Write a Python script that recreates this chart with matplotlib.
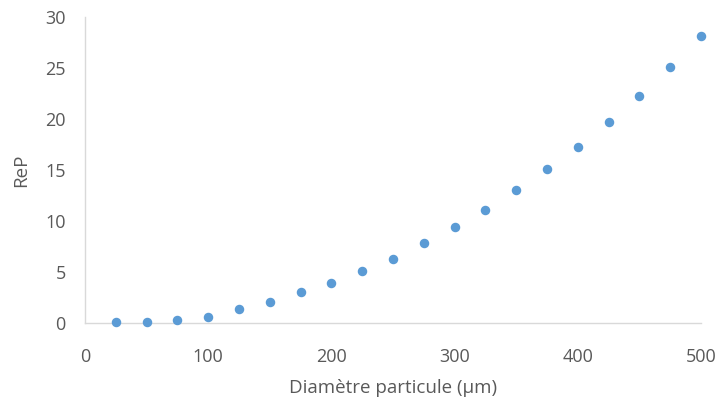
import matplotlib
matplotlib.use("Agg")
import matplotlib.pyplot as plt

plt.rcParams["font.family"] = ["Open Sans", "DejaVu Sans"]

# Particle diameter (µm) and particle Reynolds number
diametre = [25, 50, 75, 100, 125, 150, 175, 200, 225, 250,
            275, 300, 325, 350, 375, 400, 425, 450, 475, 500]
rep = [0.05, 0.05, 0.25, 0.6, 1.4, 2.1, 3.0, 3.9, 5.1, 6.3,
       7.8, 9.4, 11.1, 13.0, 15.1, 17.3, 19.7, 22.3, 25.1, 28.1]

xticks = [0, 100, 200, 300, 400, 500]
yticks = [0, 5, 10, 15, 20, 25, 30]

text_color = "#595959"
axis_color = "#D9D9D9"

fig = plt.figure(figsize=(7.18, 4.01), dpi=100)
ax = fig.add_axes([0.1184, 0.1945, 0.8579, 0.763])

ax.scatter(diametre, rep, s=34, color="#5B9BD5", zorder=3, clip_on=False)

ax.set_xlim(0, 500)
ax.set_ylim(0, 30)
ax.set_xticks(xticks)
ax.set_yticks(yticks)

for side in ["top", "right"]:
    ax.spines[side].set_visible(False)
for side in ["left", "bottom"]:
    ax.spines[side].set_color(axis_color)
    ax.spines[side].set_linewidth(1.0)

ax.tick_params(axis="both", length=0, labelsize=13, labelcolor=text_color)
ax.tick_params(axis="x", pad=18)
ax.tick_params(axis="y", pad=14)

ax.set_xlabel("Diamètre particule (µm)", fontsize=13.5, color=text_color, labelpad=9)
ax.set_ylabel("ReP", fontsize=13.5, color=text_color, labelpad=11)

fig.savefig("out.png", dpi=100)
